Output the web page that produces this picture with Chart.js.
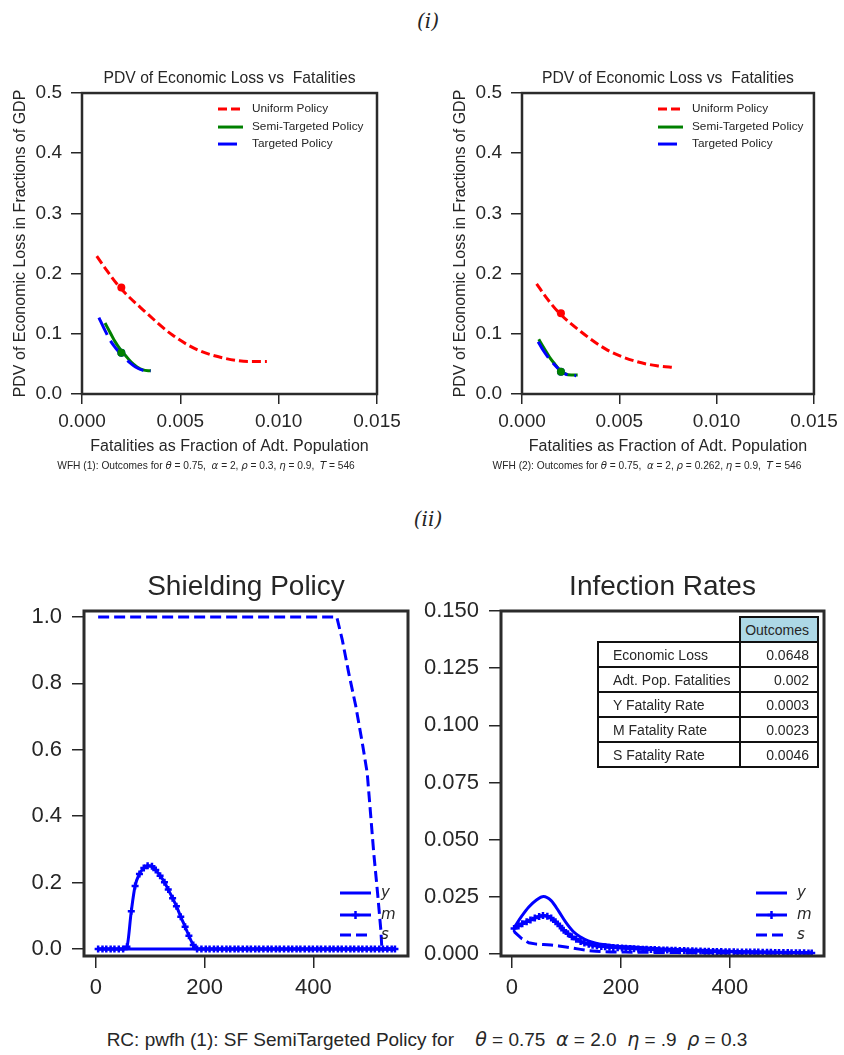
<!DOCTYPE html>
<html>
<head>
<meta charset="utf-8">
<script src="https://cdn.jsdelivr.net/npm/chart.js@4.4.0/dist/chart.umd.min.js"></script>
<style>
    body { margin: 0; width: 844px; height: 1055px; position: relative; background: #fff; overflow: hidden;
           font-family: "Liberation Sans", Arial, sans-serif; color: #262626; }
    canvas { position: absolute; }
    .txt { position: absolute; white-space: nowrap; transform: translate(-50%, -50%); }
    .part { font-family: "DejaVu Serif", serif; font-style: italic; font-size: 20px; }
    .cap { font-size: 10.2px; }
    .cap i, .bottomcap i { font-family: "DejaVu Sans", sans-serif; }
    .bottomcap { font-size: 19px; }
    .cell { position: absolute; box-sizing: border-box; border: 2px solid #111; display: flex; align-items: center;
            font-size: 14px; color: #262626; }
</style>
</head>
<body>

<div class="txt part" style="left:428px; top:21px;">(i)</div>
<div class="txt part" style="left:428px; top:519px;">(ii)</div>

<canvas id="wfh1" width="420" height="400" style="left:0; top:60px;"></canvas>
<canvas id="wfh2" width="404" height="400" style="left:440px; top:60px;"></canvas>
<div class="txt cap" style="left:206px; top:465px;">WFH (1): Outcomes for <i>θ</i> = 0.75, &nbsp;<i>α</i> = 2, <i>ρ</i> = 0.3, <i>η</i> = 0.9, &nbsp;<i>T</i> = 546</div>
<div class="txt cap" style="left:647px; top:465px;">WFH (2): Outcomes for <i>θ</i> = 0.75, &nbsp;<i>α</i> = 2, <i>ρ</i> = 0.262, <i>η</i> = 0.9, &nbsp;<i>T</i> = 546</div>

<canvas id="shield" width="420" height="450" style="left:0; top:560px;"></canvas>
<canvas id="infect" width="428" height="450" style="left:416px; top:560px;"></canvas>
<div id="outcomes"></div>

<div class="txt bottomcap" style="left:427px; top:1039px;">RC: pwfh (1): SF SemiTargeted Policy for &nbsp;&nbsp; <i>θ</i> = 0.75 &nbsp;<i>α</i> = 2.0 &nbsp;<i>η</i> = .9 &nbsp;<i>ρ</i> = 0.3</div>

<script>
/* ==========================================================================
DATA
========================================================================== */

// (i) frontier ticks
const frontierXTicks = [0, 0.005, 0.01, 0.015];
const frontierYTicks = [0, 0.1, 0.2, 0.3, 0.4, 0.5];

// WFH (1)
const wfh1UniformX = [0.00075, 0.0012, 0.0019, 0.0032, 0.0046, 0.0059, 0.0073, 0.0085, 0.0094];
const wfh1UniformY = [0.229, 0.208, 0.178, 0.137, 0.098, 0.073, 0.059, 0.054, 0.054];
const wfh1SemiX = [0.00117, 0.00145, 0.00168, 0.00195, 0.00219, 0.0025, 0.0028, 0.0031, 0.0035];
const wfh1SemiY = [0.118, 0.101, 0.087, 0.074, 0.0648, 0.053, 0.045, 0.04, 0.0385];
const wfh1TargetX = [0.00086, 0.00115, 0.00142, 0.00172, 0.00202, 0.0024, 0.0027, 0.0031, 0.0035];
const wfh1TargetY = [0.127, 0.107, 0.0897, 0.076, 0.0648, 0.053, 0.0454, 0.0395, 0.0385];
const wfh1ChosenX = [0.002, 0.002, 0.002];
const wfh1ChosenY = [0.177, 0.0686, 0.0686]; // uniform, targeted, semi

// WFH (2)
const wfh2UniformX = [0.00075, 0.0013, 0.00193, 0.00303, 0.00439, 0.0059, 0.00693, 0.00787];
const wfh2UniformY = [0.183, 0.158, 0.134, 0.1035, 0.073, 0.0537, 0.047, 0.044];
const wfh2SemiX = [0.00086, 0.00115, 0.00142, 0.00168, 0.00193, 0.0022, 0.00253, 0.00286];
const wfh2SemiY = [0.0908, 0.075, 0.061, 0.05, 0.04, 0.034, 0.0316, 0.0316];
const wfh2TargetX = [0.00083, 0.00108, 0.00134, 0.0016, 0.00185, 0.0021, 0.00235, 0.00278];
const wfh2TargetY = [0.087, 0.073, 0.061, 0.051, 0.0426, 0.036, 0.0316, 0.0304];
const wfh2ChosenX = [0.002, 0.002, 0.002];
const wfh2ChosenY = [0.134, 0.037, 0.037];

// (ii) time grids (days)
const days = [4, 12, 19, 27, 34, 42, 50, 57, 65, 72,
    80, 88, 95, 103, 110, 118, 126, 133, 141, 148,
    156, 164, 171, 179, 186, 194, 202, 209, 217, 224,
    232, 240, 247, 255, 262, 270, 278, 285, 293, 300,
    308, 316, 323, 331, 338, 346, 354, 361, 369, 376,
    384, 392, 399, 407, 414, 422, 430, 437, 445, 452,
    460, 468, 475, 483, 490, 498, 506, 513, 521, 528,
    536, 544, 550];
const coarseDays = [4, 18, 31, 45, 58, 72, 86, 99, 113, 126, 140, 154, 167, 181, 194, 208, 222, 235, 249, 262,
    276, 290, 303, 317, 330, 344, 358, 371, 385, 398, 412, 426, 439, 453, 466, 480, 494, 507, 521, 534, 548];
const dayTicks = [0, 200, 400];

// shielding policy
const shieldYDays = [4, 550];
const shieldY = [0, 0];
const shieldM = [0, 0, 0, 0, 0, 0, 0, 0.007, 0.114, 0.19,
    0.226, 0.244, 0.251, 0.249, 0.238, 0.221, 0.201, 0.179, 0.153, 0.129,
    0.097, 0.067, 0.04, 0.012, 0, 0, 0, 0, 0, 0,
    0, 0, 0, 0, 0, 0, 0, 0, 0, 0,
    0, 0, 0, 0, 0, 0, 0, 0, 0, 0,
    0, 0, 0, 0, 0, 0, 0, 0, 0, 0,
    0, 0, 0, 0, 0, 0, 0, 0, 0, 0,
    0, 0, 0];
const shieldSDays = [4, 443, 453, 465, 478, 490, 499, 505, 511, 518, 524, 526, 548];
const shieldS = [1, 1, 0.932, 0.831, 0.731, 0.62, 0.53, 0.41, 0.289, 0.169, 0.058, 0, 0];
const shieldTicks = [0, 0.2, 0.4, 0.6, 0.8, 1.0];

// infection rates
const infY = [0.0115, 0.0165, 0.0205, 0.0236, 0.0251, 0.0233, 0.0186, 0.0138, 0.0097, 0.0074,
    0.0057, 0.0047, 0.0041, 0.0037, 0.0034, 0.0032, 0.003, 0.0028, 0.0026, 0.0024,
    0.0022, 0.0021, 0.0019, 0.0018, 0.0017, 0.0016, 0.0015, 0.0014, 0.0013, 0.0012,
    0.0011, 0.001, 0.0009, 0.0009, 0.0008, 0.0008, 0.0007, 0.0007, 0.0006, 0.0006, 0.0005];
const infM = [0.0111, 0.0122, 0.0132, 0.0141, 0.0149, 0.0157, 0.0164, 0.0168, 0.0165, 0.0157,
    0.0141, 0.0122, 0.0104, 0.0088, 0.0075, 0.0064, 0.0054, 0.0048, 0.0042, 0.0038,
    0.0035, 0.0033, 0.0031, 0.0029, 0.0028, 0.0027, 0.0026, 0.0025, 0.0024, 0.0023,
    0.0022, 0.0021, 0.002, 0.0019, 0.0019, 0.0018, 0.0017, 0.0017, 0.0016, 0.0016,
    0.0015, 0.0015, 0.0014, 0.0014, 0.0013, 0.0013, 0.0012, 0.0012, 0.0011, 0.0011,
    0.0011, 0.001, 0.001, 0.001, 0.0009, 0.0009, 0.0009, 0.0008, 0.0008, 0.0008,
    0.0007, 0.0007, 0.0007, 0.0006, 0.0006, 0.0006, 0.0006, 0.0005, 0.0005, 0.0005,
    0.0005, 0.0004, 0.0004];
const infS = [0.0098, 0.0067, 0.0049, 0.0043, 0.0041, 0.0039, 0.0035, 0.003, 0.0025, 0.002,
    0.0015, 0.0012, 0.001, 0.0009, 0.0008, 0.0008, 0.0007, 0.0007, 0.0007, 0.0006,
    0.0006, 0.0006, 0.0006, 0.0005, 0.0005, 0.0005, 0.0005, 0.0005, 0.0004, 0.0004,
    0.0004, 0.0004, 0.0004, 0.0004, 0.0003, 0.0003, 0.0003, 0.0003, 0.0003, 0.0003, 0.0003];
const infTicks = [0, 0.025, 0.05, 0.075, 0.1, 0.125, 0.15];

// outcomes table
const outcomeLabels = ["Economic Loss", "Adt. Pop. Fatalities", "Y Fatality Rate", "M Fatality Rate", "S Fatality Rate"];
const outcomeValues = ["0.0648", "0.002", "0.0003", "0.0023", "0.0046"];

/* ==========================================================================
PLUGINS
========================================================================== */
const ink = "#262626";
const pairs = (xs, ys) => xs.map((x, i) => ({ x: x, y: ys[i] }));

Chart.defaults.font.family = "'Liberation Sans', Arial, sans-serif";
Chart.defaults.color = ink;

const framePlugin = {
    id: "frame",
    defaults: { color: "#2b2b2b", width: 2.5 },
    afterDatasetsDraw(chart, args, opts) {
        const { ctx, chartArea: a } = chart;
        ctx.save();
        ctx.strokeStyle = opts.color;
        ctx.lineWidth = opts.width;
        ctx.strokeRect(a.left, a.top, a.right - a.left, a.bottom - a.top);
        ctx.restore();
    },
};

const insetLegend = {
    id: "insetLegend",
    defaults: { display: false },
    afterDatasetsDraw(chart, args, opts) {
        if (!opts.display) return;
        const { ctx, chartArea: a } = chart;
        const ox = opts.fromRight ? a.right : a.left;
        const oy = opts.fromBottom ? a.bottom : a.top;
        const items = chart.data.datasets.filter((d) => d.inLegend);
        ctx.save();
        items.forEach((d, i) => {
            const y = oy + opts.rows[i];
            ctx.strokeStyle = d.borderColor;
            ctx.lineWidth = d.borderWidth;
            ctx.setLineDash(d.borderDash || []);
            ctx.beginPath();
            ctx.moveTo(ox + opts.line[0], y);
            ctx.lineTo(ox + opts.line[1], y);
            ctx.stroke();
            ctx.setLineDash([]);
            if (d.pointStyle === "cross" && d.pointRadius) {
                const cx = ox + (opts.line[0] + opts.line[1]) / 2;
                const r = d.pointRadius + 0.5;
                ctx.lineWidth = d.pointBorderWidth;
                ctx.beginPath();
                ctx.moveTo(cx - r, y); ctx.lineTo(cx + r, y);
                ctx.moveTo(cx, y - r); ctx.lineTo(cx, y + r);
                ctx.stroke();
            }
            ctx.fillStyle = ink;
            ctx.font = opts.font;
            ctx.textBaseline = "middle";
            ctx.fillText(d.label, ox + opts.text, y);
        });
        ctx.restore();
    },
};

Chart.register(framePlugin, insetLegend);

/* ==========================================================================
(i) PDV of Economic Loss vs Fatalities
========================================================================== */
// lower "order" is painted last, so later series sit on top like in the source figure
function frontierChart(id, uX, uY, sX, sY, tX, tY, cX, cY, padRight) {
    const curve = { cubicInterpolationMode: "monotone", pointRadius: 0, borderWidth: 3, fill: false, inLegend: true };
    return new Chart(document.getElementById(id), {
        type: "line",
        data: {
            datasets: [
                { ...curve, label: "Uniform Policy", data: pairs(uX, uY), borderColor: "red", borderDash: [9, 4], order: 4 },
                { ...curve, label: "Semi-Targeted Policy", data: pairs(sX, sY), borderColor: "green", order: 3 },
                { ...curve, label: "Targeted Policy", data: pairs(tX, tY), borderColor: "blue", borderDash: [19, 7], order: 2 },
                {
                    label: "chosen", data: pairs(cX, cY), showLine: false, pointRadius: 4, borderWidth: 0, order: 1,
                    pointBackgroundColor: ["red", "blue", "green"], pointBorderWidth: 0,
                },
            ],
        },
        options: {
            responsive: false,
            animation: false,
            events: [],
            layout: { padding: { left: 0, right: padRight, top: 0, bottom: 0 } },
            plugins: {
                legend: { display: false },
                tooltip: { enabled: false },
                title: {
                    display: true, fullSize: false, text: "PDV of Economic Loss vs  Fatalities", color: ink,
                    font: { size: 15.7, weight: "normal" }, padding: { top: 9.6, bottom: 4.6 },
                },
                frame: { width: 2.5 },
                insetLegend: { display: true, rows: [16, 34, 51], line: [136, 161], text: 170, font: "11.8px 'Liberation Sans'" },
            },
            scales: {
                x: {
                    type: "linear", min: 0, max: 0.015,
                    afterBuildTicks: (s) => { s.ticks = frontierXTicks.map((v) => ({ value: v })); },
                    afterFit: (s) => { s.height = 66; },
                    grid: { drawOnChartArea: false, tickLength: 10, color: ink, lineWidth: 1.5 },
                    border: { display: false },
                    ticks: { font: { size: 19 }, color: ink, padding: 6.3, maxRotation: 0, callback: (v) => v.toFixed(3) },
                    title: {
                        display: true, text: "Fatalities as Fraction of Adt. Population", color: ink,
                        font: { size: 16 }, padding: { top: 0, bottom: 3.4 },
                    },
                },
                y: {
                    min: 0, max: 0.5,
                    afterBuildTicks: (s) => { s.ticks = frontierYTicks.map((v) => ({ value: v })); },
                    afterFit: (s) => { s.width = 82; },
                    grid: { drawOnChartArea: false, tickLength: 11, color: ink, lineWidth: 1.5 },
                    border: { display: false },
                    ticks: { font: { size: 19 }, color: ink, padding: 9, callback: (v) => v.toFixed(1) },
                    title: {
                        display: true, text: "PDV of Economic Loss in Fractions of GDP", color: ink,
                        font: { size: 16 }, padding: { top: 11, bottom: 0 },
                    },
                },
            },
        },
    });
}

frontierChart("wfh1", wfh1UniformX, wfh1UniformY, wfh1SemiX, wfh1SemiY, wfh1TargetX, wfh1TargetY, wfh1ChosenX, wfh1ChosenY, 43);
frontierChart("wfh2", wfh2UniformX, wfh2UniformY, wfh2SemiX, wfh2SemiY, wfh2TargetX, wfh2TargetY, wfh2ChosenX, wfh2ChosenY, 27);

/* ==========================================================================
(ii) Shielding policy and infection rates
========================================================================== */
function groupDatasets(yDays, yVals, mVals, sDays, sVals) {
    const base = { borderColor: "blue", borderWidth: 3, pointRadius: 0, fill: false, inLegend: true, cubicInterpolationMode: "monotone" };
    return [
        { ...base, label: "y", data: pairs(yDays, yVals), order: 3 },
        {
            ...base, label: "m", data: pairs(days, mVals), pointStyle: "cross", pointRadius: 3.5, order: 2,
            pointBorderWidth: 2.5, pointBorderColor: "blue", pointBackgroundColor: "blue",
        },
        { ...base, label: "s", data: pairs(sDays, sVals), borderDash: [11, 5], cubicInterpolationMode: "default", tension: 0, order: 1 },
    ];
}

function groupOptions(title, xMin, xMax, yMin, yMax, yTicks, digits, yWidth, padRight) {
    return {
        responsive: false,
        animation: false,
        events: [],
        layout: { padding: { left: 0, right: padRight, top: 0, bottom: 0 } },
        plugins: {
            legend: { display: false },
            tooltip: { enabled: false },
            title: {
                display: true, fullSize: false, text: title, color: ink,
                font: { size: 28, weight: "normal" }, padding: { top: 10.5, bottom: 6.9 },
            },
            frame: { width: 3 },
            insetLegend: {
                display: true, fromRight: true, fromBottom: true, rows: [-63, -41, -21],
                line: [-68, -37], text: -27, font: "italic 15px 'DejaVu Sans'",
            },
        },
        scales: {
            x: {
                type: "linear", min: xMin, max: xMax,
                afterBuildTicks: (s) => { s.ticks = dayTicks.map((v) => ({ value: v })); },
                afterFit: (s) => { s.height = 54; },
                grid: { drawOnChartArea: false, tickLength: 12, color: ink, lineWidth: 1.5 },
                border: { display: false },
                ticks: { font: { size: 22 }, color: ink, padding: 6.5, maxRotation: 0, callback: (v) => String(v) },
            },
            y: {
                min: yMin, max: yMax,
                afterBuildTicks: (s) => { s.ticks = yTicks.map((v) => ({ value: v })); },
                afterFit: (s) => { s.width = yWidth; },
                grid: { drawOnChartArea: false, tickLength: 12, color: ink, lineWidth: 1.5 },
                border: { display: false },
                ticks: { font: { size: 22 }, color: ink, padding: 10, callback: (v) => v.toFixed(digits) },
            },
        },
    };
}

new Chart(document.getElementById("shield"), {
    type: "line",
    data: { datasets: groupDatasets(shieldYDays, shieldY, shieldM, shieldSDays, shieldS) },
    options: groupOptions("Shielding Policy", -22, 574, -0.021, 1.018, shieldTicks, 1, 84, 12),
});

new Chart(document.getElementById("infect"), {
    type: "line",
    data: { datasets: groupDatasets(coarseDays, infY, infM, coarseDays, infS) },
    options: groupOptions("Infection Rates", -20, 572.5, -0.0009, 0.15, infTicks, 3, 85, 20),
});

/* ==========================================================================
OUTCOMES TABLE
========================================================================== */
const tableCols = [598, 740, 818];
const tableTop = 617;
const rowH = 25;
const tableEl = document.getElementById("outcomes");

function addCell(x0, y0, x1, y1, text, align, bg) {
    const c = document.createElement("div");
    c.className = "cell";
    c.style.left = x0 - 1 + "px";
    c.style.top = y0 - 1 + "px";
    c.style.width = x1 - x0 + 2 + "px";
    c.style.height = y1 - y0 + 2 + "px";
    c.style.justifyContent = align === "right" ? "flex-end" : "flex-start";
    c.style.padding = align === "right" ? "0 8px 0 0" : "0 0 0 14px";
    if (bg) c.style.background = bg;
    c.textContent = text;
    tableEl.appendChild(c);
}

addCell(tableCols[1], tableTop, tableCols[2], tableTop + rowH, "Outcomes", "right", "#add8e6");
outcomeLabels.forEach((label, i) => {
    const y0 = tableTop + rowH * (i + 1);
    addCell(tableCols[0], y0, tableCols[1], y0 + rowH, label, "left");
    addCell(tableCols[1], y0, tableCols[2], y0 + rowH, outcomeValues[i], "right");
});
</script>
</body>
</html>
